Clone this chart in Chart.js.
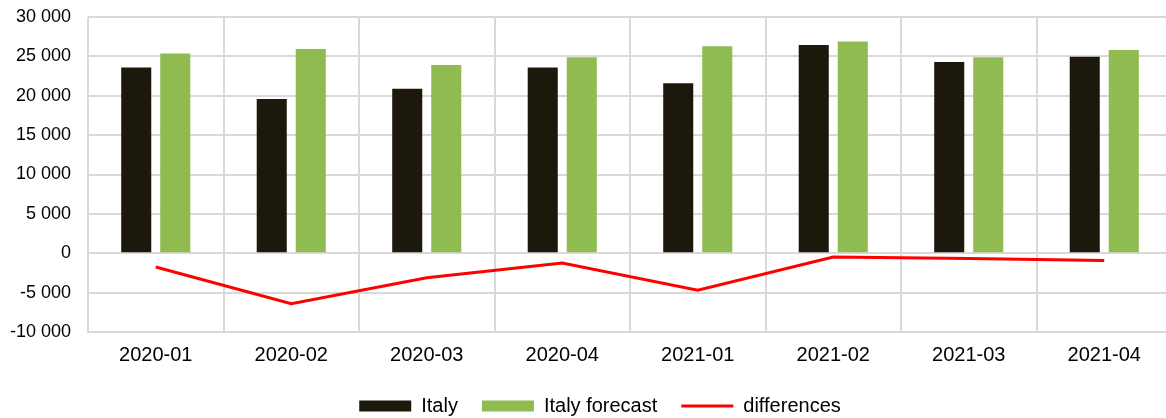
<!DOCTYPE html>
<html>
<head>
<meta charset="utf-8">
<script src="https://cdn.jsdelivr.net/npm/chart.js@4/dist/chart.umd.min.js"></script>
<style>
  html, body { margin: 0; padding: 0; background: #fff; overflow: hidden; width: 1166px; height: 418px; }
  #wrap { position: absolute; left: 0; top: 0; width: 1200px; height: 430px; }
</style>
</head>
<body>
<div id="wrap"><canvas id="c" width="1200" height="430" style="width:1200px;height:430px"></canvas></div>
<script>
const categories = ['2020-01', '2020-02', '2020-03', '2020-04', '2021-01', '2021-02', '2021-03', '2021-04'];
const italy = [23600, 19600, 20900, 23600, 21600, 26450, 24300, 24950];
const italyForecast = [25350, 25950, 23900, 24880, 26280, 26880, 24880, 25820];
const differences = [-1750, -6400, -3100, -1250, -4700, -470, -680, -930];
const yMin = -10000, yMax = 30000, yStep = 5000;

const FONT = '"Liberation Sans", Arial, sans-serif';
const GRID = '#d9d9d9';

function fmt(v) {
  const s = Math.abs(v).toString().replace(/\B(?=(\d{3})+(?!\d))/g, ' ');
  return (v < 0 ? '-' : '') + s;
}

// let the y-axis labels extend into the left padding without being clipped
const unclipYLabels = {
  id: 'unclipYLabels',
  afterLayout(chart) { chart.scales.y.left = 0; }
};

new Chart(document.getElementById('c'), {
  data: {
    labels: categories,
    datasets: [
      { type: 'bar', label: 'Italy', data: italy, backgroundColor: '#1d180c', borderWidth: 0,
        barPercentage: 0.77, categoryPercentage: 0.576, pointStyle: 'rect' },
      { type: 'bar', label: 'Italy forecast', data: italyForecast, backgroundColor: '#8fbb50', borderWidth: 0,
        barPercentage: 0.77, categoryPercentage: 0.576, pointStyle: 'rect' },
      { type: 'line', label: 'differences', data: differences, borderColor: '#ff0000', backgroundColor: '#ff0000',
        borderWidth: 3, pointRadius: 0, pointHoverRadius: 0, tension: 0, fill: false, pointStyle: 'line' }
    ]
  },
  plugins: [unclipYLabels],
  options: {
    responsive: false,
    animation: false,
    layout: { padding: { left: 28, right: 28, top: 17, bottom: 4 } },
    scales: {
      x: {
        offset: true,
        grid: { color: GRID, lineWidth: 2, drawTicks: false, offset: true },
        border: { color: GRID, width: 2 },
        ticks: { color: '#000', font: { family: FONT, size: 20 }, padding: 11 },
        afterFit: (s) => { s.height = 40; }
      },
      y: {
        min: yMin, max: yMax,
        grid: { color: GRID, lineWidth: 2, drawTicks: false },
        border: { display: false },
        ticks: { stepSize: yStep, color: '#000', font: { family: FONT, size: 18 }, padding: 17,
          callback: (v) => fmt(v) },
        afterFit: (s) => { s.width = 60; s.paddingTop = 0; s.paddingBottom = 0; }
      }
    },
    plugins: {
      legend: {
        position: 'bottom',
        labels: {
          color: '#000', font: { family: FONT, size: 20 },
          usePointStyle: true, pointStyleWidth: 52, boxHeight: 11, padding: 24
        }
      },
      tooltip: { enabled: false }
    }
  }
});
</script>
</body>
</html>
